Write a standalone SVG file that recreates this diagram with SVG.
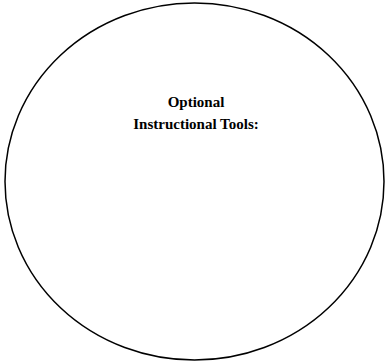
<svg xmlns="http://www.w3.org/2000/svg" width="389" height="364" viewBox="0 0 389 364">
<style>
.t{font-family:"Liberation Serif","Times New Roman",serif;font-weight:bold;font-size:15px;fill:#000;text-anchor:middle}
</style>
<rect width="389" height="364" fill="#fff"/>
<g id="node-tools">
<ellipse cx="194.5" cy="181.5" rx="189.5" ry="178.5" fill="#fff" stroke="#000" stroke-width="1.5"/>
<text class="t" x="196" y="107">Optional</text>
<text class="t" x="196" y="129">Instructional Tools:</text>
</g>
<g id="connectors"/>
</svg>
